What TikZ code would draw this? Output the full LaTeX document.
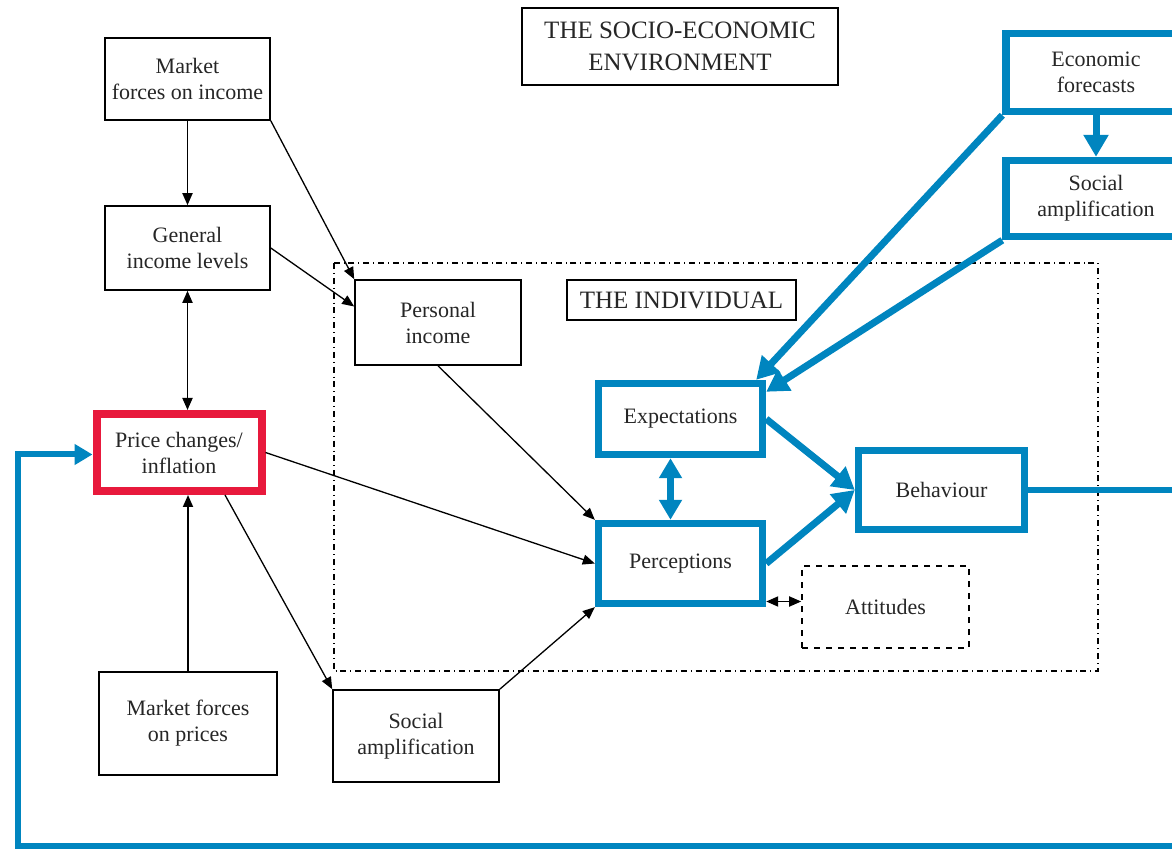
\documentclass[tikz,border=0pt]{standalone}
\usepackage{fontspec}
\setmainfont{Liberation Serif}
\usetikzlibrary{arrows.meta, positioning}

\definecolor{hlblue}{HTML}{0085BF}
\definecolor{hlred}{HTML}{E8193C}

\tikzset{
	x=0.5pt, y=-0.5pt, % one unit is one pixel of the scan, y grows downwards
	>={Triangle[length=6pt,width=5pt]}, % small black heads
	every node/.style={font=\fontsize{11}{13}\selectfont, text=black!85, align=center, inner sep=0pt},
	box/.style={draw, line width=0.8pt}, % plain boxes
	bluebox/.style={draw=hlblue, line width=3.7pt}, % highlighted boxes
	link/.style={->, line width=0.65pt}, % thin black arrows
	bluelink/.style={draw=hlblue, line width=3.5pt, -{Triangle[length=11pt,width=12pt]}},
	headline/.style={font=\fontsize{12.5}{16}\selectfont},
}

\begin{document}
\begin{tikzpicture}
	\useasboundingbox (0,0) rectangle (1172,849);
	
	% socio-economic environment
	\node[box, headline, minimum width=158pt, minimum height=38.5pt] (env) at (680,46.5) {THE SOCIO-ECONOMIC\\ENVIRONMENT};
	\node[box, minimum width=82.5pt, minimum height=41pt] (mfi) at (187.5,79) {Market\\forces on income};
	\node[box, minimum width=82.5pt, minimum height=42pt] (gil) at (187.5,248) {General\\income levels};
	\node[draw=hlred, line width=4pt, minimum width=82.5pt, minimum height=38.5pt] (pci) at (179,452.5) {Price changes/\\inflation};
	\node[box, minimum width=89pt, minimum height=51.5pt] (mfp) at (188,723.5) {Market forces\\on prices};
	\node[box, minimum width=83pt, minimum height=46pt] (sam) at (416,736) {Social\\amplification};
	\node[bluebox, minimum width=90pt, minimum height=39pt] (efc) at (1096,72.5) {Economic\\forecasts};
	\node[bluebox, minimum width=90pt, minimum height=38pt] (sar) at (1096,198.5) {Social\\amplification};
	
	% the individual
	\draw[dash dot, line width=1pt] (334,263) rectangle (1098,671);
	\node[box, headline, minimum width=114.5pt, minimum height=20pt] (ind) at (681.5,300) {THE INDIVIDUAL};
	\node[box, minimum width=83pt, minimum height=42.5pt] (pin) at (438,322.5) {Personal\\income};
	\node[bluebox, minimum width=82pt, minimum height=35.5pt] (exp) at (680.5,419) {Expectations};
	\node[bluebox, minimum width=82pt, minimum height=40pt] (per) at (680.5,563.5) {Perceptions};
	\node[bluebox, minimum width=83pt, minimum height=39.5pt] (beh) at (941.5,490) {Behaviour};
	\node[draw, dashed, line width=0.8pt, minimum width=83.5pt, minimum height=41pt] (att) at (885.5,607) {Attitudes};
	
	% black arrows
	\draw[link, line width=0.9pt] (mfi) -- (gil);
	\draw[link, line width=0.9pt, <->] (gil.south) -- (gil.south|-pci.north);
	\draw[link, line width=0.9pt] (mfp.north) -- (mfp.north|-pci.south);
	\draw[link] (mfi.south east) -- (pin.north west);
	\draw[link] (gil.east) -- ([yshift=8pt]pin.west);
	\draw[link] (pin.south) -- (per.north west);
	\draw[link] (pci.east) -- (per.west);
	\draw[link] ([xshift=23pt]pci.south) -- (sam.north west);
	\draw[link] (sam.north east) -- (per.south west);
	\draw[link, line width=0.9pt, <->] ([yshift=-19pt]per.east) -- ([yshift=-19pt]per.east-|att.west);
	
	% blue arrows
	\draw[bluelink] (efc) -- (sar);
	\draw[bluelink] (efc.south west) -- ([xshift=-5pt]exp.north east);
	\draw[bluelink] (sar.south west) -- ([yshift=-6pt]exp.north east);
	\draw[bluelink] (exp.east) -- (beh.west);
	\draw[bluelink] (per.east) -- (beh.west);
	\draw[bluelink, {Triangle[length=10pt,width=11pt]}-{Triangle[length=10pt,width=11pt]}] ([xshift=-5pt]exp.south) -- ([xshift=-5pt]per.north);
	
	% feedback loop
	\draw[bluelink, line width=3pt, -{Triangle[length=9pt,width=10pt]}] (beh.east) -- ++(170,0) |- (18,846) |- ([yshift=-1pt]pci.west);
	
\end{tikzpicture}
\end{document}
